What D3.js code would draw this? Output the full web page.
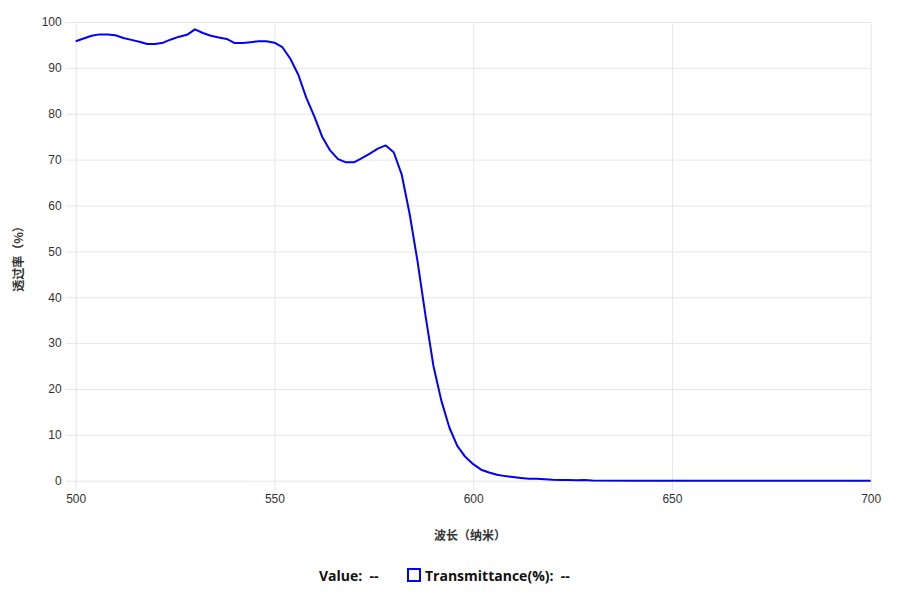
<!DOCTYPE html>
<html><head><meta charset="utf-8">
<script src="https://cdn.jsdelivr.net/npm/d3@7/dist/d3.min.js"></script>
<style>
body{margin:0;background:#fff;}
svg{display:block;font-family:"Noto Sans CJK SC","Noto Sans",sans-serif;}
</style></head>
<body><svg id="c" width="900" height="603"></svg>
<script>
const wavelengths = [500,502,504,506,508,510,512,514,516,518,520,522,524,526,528,530,532,534,536,538,540,542,544,546,548,550,552,554,556,558,560,562,564,566,568,570,572,574,576,578,580,582,584,586,588,590,592,594,596,598,600,602,604,606,608,610,612,614,616,618,620,622,624,626,628,630,640,650,660,670,680,690,700];
const transmittance = [95.8,96.4,97.0,97.3,97.3,97.1,96.5,96.1,95.7,95.2,95.2,95.5,96.2,96.8,97.2,98.4,97.6,97.0,96.6,96.3,95.4,95.4,95.6,95.8,95.8,95.5,94.5,92.0,88.5,83.5,79.5,75.0,72.0,70.1,69.4,69.4,70.3,71.3,72.4,73.1,71.6,66.8,58.2,47.8,36.0,25.0,17.4,11.6,7.6,5.2,3.6,2.4,1.8,1.3,1.0,0.8,0.6,0.4,0.4,0.3,0.2,0.15,0.15,0.1,0.15,0.05,0,0,0,0,0,0,0];
const xTicks = [500,550,600,650,700];
const yTicks = [0,10,20,30,40,50,60,70,80,90,100];
const xTitle = "波长（纳米）";
const yTitle = "透过率（%）";
const seriesName = "Transmittance(%)";

const svg = d3.select("#c");
const x = d3.scaleLinear().domain([500,700]).range([75.7,870.7]);
const y = d3.scaleLinear().domain([0,100]).range([480.7,22]);
const grid = "#e6e6e6";

// horizontal grid
svg.append("g").attr("transform","translate(75.7,0)")
  .call(d3.axisLeft(y).tickValues(yTicks).tickSize(-795).tickSizeOuter(0).tickPadding(4))
  .call(g=>g.select(".domain").remove())
  .call(g=>g.selectAll(".tick line").attr("stroke",grid).attr("x1",-10).attr("stroke-width",1))
  .call(g=>g.selectAll(".tick text").attr("fill","#333").attr("font-size",12).attr("x",-14));

// vertical grid
svg.append("g").attr("transform","translate(0,480.7)")
  .call(d3.axisBottom(x).tickValues(xTicks).tickSize(-458.7).tickSizeOuter(0).tickFormat(d3.format("d")))
  .call(g=>g.select(".domain").remove())
  .call(g=>g.selectAll(".tick line").attr("stroke",grid).attr("y1",10).attr("stroke-width",1))
  .call(g=>g.selectAll(".tick text").attr("fill","#333").attr("font-size",12).attr("y",14));

// line
const line = d3.line().x((d,i)=>x(wavelengths[i])).y(d=>y(d));
svg.append("path").datum(transmittance).attr("d",line)
  .attr("fill","none").attr("stroke","#0000ff").attr("stroke-width",2).attr("stroke-linejoin","round");

// titles
svg.append("text").attr("x",470).attr("y",540).attr("text-anchor","middle")
  .attr("font-size",12).attr("font-weight","bold").attr("fill","#333").text(xTitle);
svg.append("text").attr("transform","translate(23,256) rotate(-90)").attr("text-anchor","middle")
  .attr("font-size",12).attr("font-weight","bold").attr("fill","#333").text(yTitle);

// legend
const lg = svg.append("g").attr("font-family","'Open Sans','Noto Sans',sans-serif").attr("font-size",14).attr("font-weight","bold");
lg.append("text").attr("x",319).attr("y",581).attr("fill","#111").text("Value:  --").attr("xml:space","preserve");
lg.append("rect").attr("x",408).attr("y",569).attr("width",12).attr("height",12).attr("fill","none").attr("stroke","#0000ff").attr("stroke-width",2);
lg.append("text").attr("x",425).attr("y",581).attr("fill","#111").attr("xml:space","preserve").text(seriesName+":  --");
</script></body></html>
